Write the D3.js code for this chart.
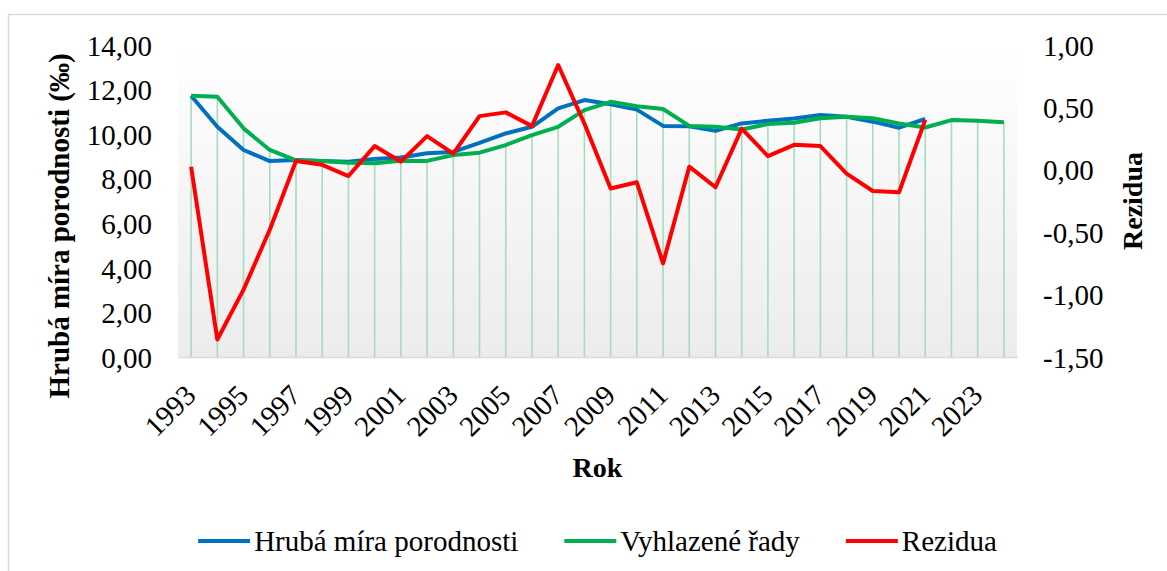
<!DOCTYPE html>
<html lang="cs">
<head>
  <meta charset="UTF-8">
  <title>Hrubá míra porodnosti - D3</title>
  <script src="https://d3js.org/d3.v7.min.js"></script>
  <style>
    body {
      margin: 0;
      background: #ffffff;
    }

    svg text {
      font-family: "Liberation Serif", serif;
      fill: #000;
    }

    .tick text {
      font-size: 29px;
    }

    .axis-title {
      font-size: 28px;
      font-weight: bold;
    }

    .legend-text {
      font-size: 29px;
    }
  </style>
</head>
<body>

<script>
  // Data
  var years = [1993, 1994, 1995, 1996, 1997, 1998, 1999, 2000, 2001, 2002,
               2003, 2004, 2005, 2006, 2007, 2008, 2009, 2010, 2011, 2012,
               2013, 2014, 2015, 2016, 2017, 2018, 2019, 2020, 2021, 2022,
               2023, 2024];

  // Hrubá míra porodnosti 1993-2021
  var birthRate = [11.72, 10.33, 9.29, 8.79, 8.84, 8.80, 8.76, 8.88, 8.95, 9.14,
                   9.20, 9.61, 10.03, 10.33, 11.16, 11.53, 11.34, 11.10, 10.37, 10.35,
                   10.15, 10.48, 10.60, 10.70, 10.86, 10.78, 10.56, 10.29, 10.68];

  // Vyhlazené řady 1993-2024
  var smoothed = [11.72, 11.68, 10.26, 9.29, 8.82, 8.79, 8.72, 8.69, 8.81, 8.80,
                  9.06, 9.17, 9.51, 9.96, 10.33, 11.08, 11.45, 11.25, 11.13, 10.37,
                  10.33, 10.21, 10.45, 10.51, 10.71, 10.78, 10.71, 10.48, 10.30, 10.63,
                  10.60, 10.53];

  // Rezidua 1993-2021
  var residuals = [0.025, -1.36, -0.96, -0.48, 0.07, 0.04, -0.05, 0.19, 0.065, 0.27,
                   0.13, 0.43, 0.46, 0.35, 0.84, 0.37, -0.15, -0.10, -0.75, 0.025,
                   -0.14, 0.33, 0.11, 0.20, 0.19, -0.03, -0.17, -0.18, 0.40];

  var leftTicks = [0, 2, 4, 6, 8, 10, 12, 14];
  var rightTicks = [-1.5, -1, -0.5, 0, 0.5, 1];
  var yearTicks = years.filter(function(y) { return (y - 1993) % 2 === 0; });

  var seriesNames = ["Hrubá míra porodnosti", "Vyhlazené řady", "Rezidua"];
  var seriesColors = ["#0070C0", "#00B050", "#FF0000"];

  // Rozměry
  var W = 1167, H = 571;
  var plot = { left: 178, right: 1017, top: 45, bottom: 357 };

  var svg = d3.select("body")
              .append("svg")
              .attr("width", W)
              .attr("height", H)
              .attr("font-family", "Liberation Serif");

  // Formát s desetinnou čárkou
  var cz = d3.formatLocale({ decimal: ",", thousands: " ", grouping: [3], currency: ["", " Kč"], minus: "-" });
  var fmt = cz.format(".2f");

  // Škály
  var x = d3.scalePoint()
            .domain(years)
            .range([plot.left, plot.right])
            .padding(0.5);

  var yLeft = d3.scaleLinear()
                .domain([0, 14])
                .range([plot.bottom, plot.top]);

  var yRight = d3.scaleLinear()
                 .domain([-1.5, 1])
                 .range([plot.bottom, plot.top]);

  // Rámeček grafu
  svg.append("rect")
     .attr("x", 8.5)
     .attr("y", 14.5)
     .attr("width", W + 20)
     .attr("height", H + 20)
     .attr("fill", "#fff")
     .attr("stroke", "#d9d9d9")
     .attr("stroke-width", 1.5);

  // Pozadí plochy
  var grad = svg.append("defs")
                .append("linearGradient")
                .attr("id", "bg")
                .attr("x1", 0).attr("y1", 0)
                .attr("x2", 0).attr("y2", 1);
  grad.append("stop").attr("offset", "0%").attr("stop-color", "#ffffff");
  grad.append("stop").attr("offset", "100%").attr("stop-color", "#ececec");

  svg.append("rect")
     .attr("x", plot.left)
     .attr("y", plot.top)
     .attr("width", plot.right - plot.left)
     .attr("height", plot.bottom - plot.top)
     .attr("fill", "url(#bg)");

  // Svislé spojnice vyhlazené řady
  svg.selectAll(".drop")
     .data(smoothed)
     .enter()
     .append("line")
     .attr("class", "drop")
     .attr("x1", function(d, i) { return x(years[i]); })
     .attr("x2", function(d, i) { return x(years[i]); })
     .attr("y1", function(d) { return yLeft(d); })
     .attr("y2", yLeft(0))
     .attr("stroke", "#a6dcbc")
     .attr("stroke-width", 1.6);

  // Osa X
  var xAxis = svg.append("g")
                 .attr("transform", "translate(0," + plot.bottom + ")")
                 .call(d3.axisBottom(x).tickValues(yearTicks).tickSize(0).tickSizeOuter(0));
  xAxis.attr("font-family", null).attr("font-size", null);
  xAxis.select(".domain").attr("stroke", "#d9d9d9").attr("stroke-width", 1.5);
  xAxis.selectAll("text")
       .attr("x", 0)
       .attr("y", 0)
       .attr("dy", 0)
       .attr("text-anchor", "end")
       .attr("transform", "translate(6,40) rotate(-45)");

  // Osa Y vlevo
  var leftAxis = svg.append("g")
                    .attr("transform", "translate(" + plot.left + ",0)")
                    .call(d3.axisLeft(yLeft).tickValues(leftTicks).tickFormat(fmt).tickSize(0).tickPadding(26));
  leftAxis.attr("font-family", null).attr("font-size", null);
  leftAxis.select(".domain").remove();
  leftAxis.selectAll("text").attr("dy", "0.35em");

  // Osa Y vpravo
  var rightAxis = svg.append("g")
                     .attr("transform", "translate(" + plot.right + ",0)")
                     .call(d3.axisRight(yRight).tickValues(rightTicks).tickFormat(fmt).tickSize(0).tickPadding(26));
  rightAxis.attr("font-family", null).attr("font-size", null);
  rightAxis.select(".domain").remove();
  rightAxis.selectAll("text").attr("dy", "0.35em");

  // Názvy os
  svg.append("text")
     .attr("class", "axis-title")
     .attr("transform", "translate(69,226) rotate(-90)")
     .attr("text-anchor", "middle")
     .style("font-size", "29px")
     .text("Hrubá míra porodnosti (‰)");

  svg.append("text")
     .attr("class", "axis-title")
     .attr("transform", "translate(1142,201) rotate(-90)")
     .attr("text-anchor", "middle")
     .text("Rezidua");

  svg.append("text")
     .attr("class", "axis-title")
     .attr("x", (plot.left + plot.right) / 2)
     .attr("y", 477)
     .attr("text-anchor", "middle")
     .text("Rok");

  // Čáry
  var lineLeft = d3.line()
                   .x(function(d, i) { return x(years[i]); })
                   .y(function(d) { return yLeft(d); });

  var lineRight = d3.line()
                    .x(function(d, i) { return x(years[i]); })
                    .y(function(d) { return yRight(d); });

  svg.append("path")
     .datum(birthRate)
     .attr("fill", "none")
     .attr("stroke", seriesColors[0])
     .attr("stroke-width", 4)
     .attr("stroke-linejoin", "round")
     .attr("d", lineLeft);

  svg.append("path")
     .datum(smoothed)
     .attr("fill", "none")
     .attr("stroke", seriesColors[1])
     .attr("stroke-width", 4)
     .attr("stroke-linejoin", "round")
     .attr("d", lineLeft);

  svg.append("path")
     .datum(residuals)
     .attr("fill", "none")
     .attr("stroke", seriesColors[2])
     .attr("stroke-width", 4)
     .attr("stroke-linejoin", "round")
     .attr("d", lineRight);

  // Legenda
  var legend = svg.append("g");
  var swatch = 52, swGap = 4, itemGap = 46, legendY = 541;
  var items = legend.selectAll("g")
                    .data(seriesNames)
                    .enter()
                    .append("g");
  items.append("line")
       .attr("x1", 0).attr("x2", swatch)
       .attr("y1", legendY).attr("y2", legendY)
       .attr("stroke", function(d, i) { return seriesColors[i]; })
       .attr("stroke-width", 4);
  items.append("text")
       .attr("class", "legend-text")
       .attr("x", swatch + swGap)
       .attr("y", legendY)
       .attr("dy", "0.35em")
       .text(function(d) { return d; });

  var offsets = [], total = 0;
  items.each(function(d, i) {
    var w = swatch + swGap + this.querySelector("text").getComputedTextLength();
    offsets.push(total);
    total += w + (i < seriesNames.length - 1 ? itemGap : 0);
  });
  var startX = (plot.left + plot.right) / 2 - total / 2;
  items.attr("transform", function(d, i) { return "translate(" + (startX + offsets[i]) + ",0)"; });
</script>

</body>
</html>
